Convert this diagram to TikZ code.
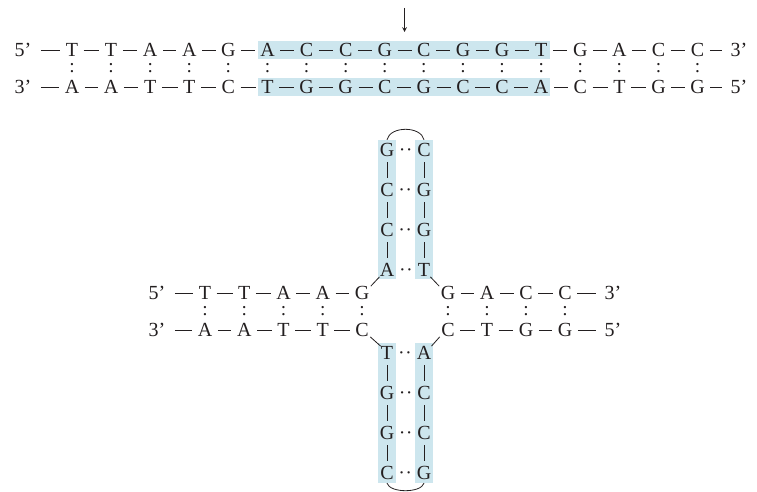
\documentclass[tikz,border=0pt]{standalone}
\usepackage{fontspec}
\setmainfont{Liberation Serif}
\definecolor{hilite}{RGB}{205,230,238}
\definecolor{ink}{RGB}{35,31,32}
\tikzset{
  base/.style={inner sep=0pt, text height=9.9pt, text depth=0pt,
    font=\fontsize{15}{17}\selectfont, text=ink},
  bond/.style={draw=ink, line width=0.6pt, shorten <=4pt, shorten >=4pt},
  diag/.style={draw=ink, line width=0.6pt},
  pair/.style={inner sep=0pt, font=\fontsize{14.5}{17}\selectfont, text=ink},
  hpair/.style={pair, rotate=90},
}
\begin{document}
\begin{tikzpicture}[x=0.75pt, y=-0.75pt]
    \useasboundingbox (0,0) rectangle (757,492);

    % Highlighted palindrome
    \fill[hilite] (258,41) rectangle (550,59);
    \fill[hilite] (258,78) rectangle (550,96);

    % Linear duplex
    \node[base] (e5a) at (23,50) {5'};
    \node[base] (e3a) at (23,87) {3'};
    \node[base] (e3b) at (739,50) {3'};
    \node[base] (e5b) at (739,87) {5'};
    \foreach \b [count=\i] in {T,T,A,A,G,A,C,C,G,C,G,G,T,G,A,C,C}
        \node[base] (t\i) at ({72+39.1*(\i-1)},50) {\b};
    \foreach \b [count=\i] in {A,A,T,T,C,T,G,G,C,G,C,C,A,C,T,G,G}
        \node[base] (b\i) at ({72+39.1*(\i-1)},87) {\b};
    \foreach \i [evaluate=\i as \j using int(\i+1)] in {1,...,16} {
        \draw[bond] (t\i) -- (t\j);
        \draw[bond] (b\i) -- (b\j);
    }
    \foreach \i in {1,...,17}
        \path (t\i) -- node[pair] {:} (b\i);
    \draw[bond, shorten <=7pt] (e5a) -- (t1);
    \draw[bond, shorten <=7pt] (e3a) -- (b1);
    \draw[bond, shorten >=6pt] (t17) -- (e3b);
    \draw[bond, shorten >=6pt] (b17) -- (e5b);

    % Cut site
    \coordinate (cuttop) at (404.5,8);
    \coordinate (cutend) at (404.5,32);
    \draw[->, >=stealth, ink, line width=0.6pt] (cuttop) -- (cutend);

    % Stem highlights
    \fill[hilite] (378,140) rectangle (396,279);
    \fill[hilite] (415,140) rectangle (433,279);
    \fill[hilite] (378,343) rectangle (396,483);
    \fill[hilite] (415,343) rectangle (433,483);

    % Cruciform arms
    \node[base] (f5a) at (157,293) {5'};
    \node[base] (f3a) at (157,330) {3'};
    \node[base] (f3b) at (613,293) {3'};
    \node[base] (f5b) at (613,330) {5'};
    \foreach \b [count=\i] in {T,T,A,A,G}
        \node[base] (lt\i) at ({205+39.25*(\i-1)},293) {\b};
    \foreach \b [count=\i] in {A,A,T,T,C}
        \node[base] (lb\i) at ({205+39.25*(\i-1)},330) {\b};
    \foreach \b [count=\i] in {G,A,C,C}
        \node[base] (rt\i) at ({448+39*(\i-1)},293) {\b};
    \foreach \b [count=\i] in {C,T,G,G}
        \node[base] (rb\i) at ({448+39*(\i-1)},330) {\b};
    \foreach \i [evaluate=\i as \j using int(\i+1)] in {1,...,4} {
        \draw[bond] (lt\i) -- (lt\j);
        \draw[bond] (lb\i) -- (lb\j);
    }
    \foreach \i [evaluate=\i as \j using int(\i+1)] in {1,...,3} {
        \draw[bond] (rt\i) -- (rt\j);
        \draw[bond] (rb\i) -- (rb\j);
    }
    \foreach \i in {1,...,5}
        \path (lt\i) -- node[pair] {:} (lb\i);
    \foreach \i in {1,...,4}
        \path (rt\i) -- node[pair] {:} (rb\i);
    \draw[bond, shorten <=7pt] (f5a) -- (lt1);
    \draw[bond, shorten <=7pt] (f3a) -- (lb1);
    \draw[bond, shorten >=6pt] (rt4) -- (f3b);
    \draw[bond, shorten >=6pt] (rb4) -- (f5b);

    % Hairpin stems
    \foreach \b [count=\i] in {G,C,C,A}
        \node[base] (ul\i) at (387,{150+40*(\i-1)}) {\b};
    \foreach \b [count=\i] in {C,G,G,T}
        \node[base] (ur\i) at (424,{150+40*(\i-1)}) {\b};
    \foreach \b [count=\i] in {T,G,G,C}
        \node[base] (ll\i) at (387,{353+40*(\i-1)}) {\b};
    \foreach \b [count=\i] in {A,C,C,G}
        \node[base] (lr\i) at (424,{353+40*(\i-1)}) {\b};
    \foreach \i [evaluate=\i as \j using int(\i+1)] in {1,...,3} {
        \draw[bond] (ul\i) -- (ul\j);
        \draw[bond] (ur\i) -- (ur\j);
        \draw[bond] (ll\i) -- (ll\j);
        \draw[bond] (lr\i) -- (lr\j);
    }
    \foreach \i in {1,...,4} {
        \path (ul\i) -- node[hpair] {:} (ur\i);
        \path (ll\i) -- node[hpair] {:} (lr\i);
    }

    % Junction bonds
    \draw[diag] ([xshift=1pt]lt5.north east) -- (ul4.south west);
    \draw[diag] (ur4.south east) -- ([xshift=-1pt]rt1.north west);
    \draw[diag] ([xshift=1pt]lb5.south east) -- (ll1.north west);
    \draw[diag] (lr1.north east) -- ([xshift=-1pt]rb1.south west);

    % Loops
    \draw[diag] ([yshift=2.5pt]ul1.north) .. controls +(3,-14) and +(-3,-14) .. ([yshift=2.5pt]ur1.north);
    \draw[diag] ([yshift=-2.5pt]ll4.south) .. controls +(3,10) and +(-3,10) .. ([yshift=-2.5pt]lr4.south);
\end{tikzpicture}
\end{document}
